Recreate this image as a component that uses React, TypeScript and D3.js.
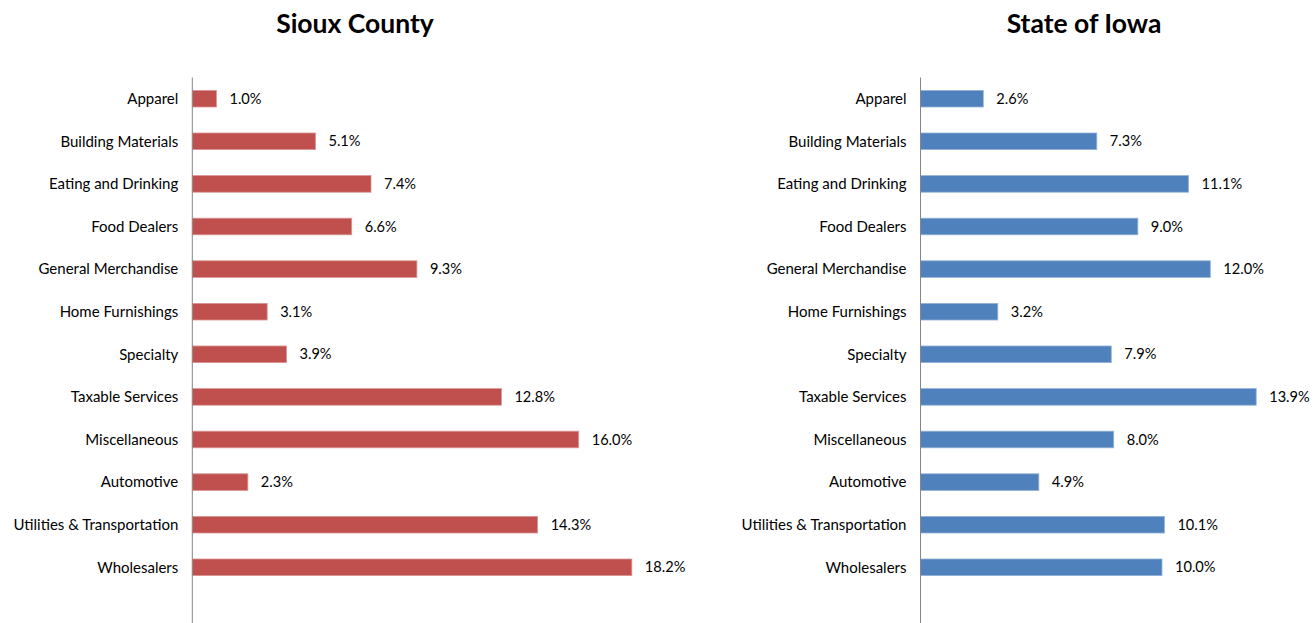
import * as d3 from "d3";

const categories = [
  "Apparel",
  "Building Materials",
  "Eating and Drinking",
  "Food Dealers",
  "General Merchandise",
  "Home Furnishings",
  "Specialty",
  "Taxable Services",
  "Miscellaneous",
  "Automotive",
  "Utilities & Transportation",
  "Wholesalers",
];

const siouxValues = [1.0, 5.1, 7.4, 6.6, 9.3, 3.1, 3.9, 12.8, 16.0, 2.3, 14.3, 18.2];
const iowaValues = [2.6, 7.3, 11.1, 9.0, 12.0, 3.2, 7.9, 13.9, 8.0, 4.9, 10.1, 10.0];

const W = 1316;
const H = 623;
const font = "Lato, 'Open Sans', sans-serif";

function Panel({
  title,
  values,
  axisX,
  titleX,
  color,
  stroke,
}: {
  title: string;
  values: number[];
  axisX: number;
  titleX: number;
  color: string;
  stroke: string;
}) {
  const y = d3.scaleBand<string>().domain(categories).range([77.4, 588.6]).paddingInner(0.61).paddingOuter(0.305);
  const x = d3.scaleLinear().domain([0, 20]).range([0, 483]);
  return (
    <g>
      <text x={titleX} y={33} textAnchor="middle" fontFamily={font} fontWeight="bold" fontSize={26.5} fill="#000">
        {title}
      </text>
      {categories.map((c, i) => {
        const cy = (y(c) ?? 0) + y.bandwidth() / 2;
        return (
          <g key={c}>
            <rect
              x={axisX}
              y={y(c)}
              width={x(values[i])}
              height={y.bandwidth()}
              fill={color}
              stroke={stroke}
              strokeWidth={0.8}
            />
            <text x={axisX - 14} y={cy} dy="0.35em" textAnchor="end" fontFamily={font} fontSize={15} fill="#000">
              {c}
            </text>
            <text x={axisX + x(values[i]) + 13} y={cy} dy="0.35em" fontFamily={font} fontSize={14.6} fill="#000">
              {values[i].toFixed(1) + "%"}
            </text>
          </g>
        );
      })}
      <line x1={axisX} x2={axisX} y1={77.5} y2={H} stroke="#868686" strokeWidth={1} />
    </g>
  );
}

export default function App() {
  return (
    <svg width={W} height={H} style={{ position: "absolute", left: 0, top: 0, background: "#fff" }}>
      <rect width={W} height={H} fill="#fff" />
      <Panel title="Sioux County" values={siouxValues} axisX={192.3} titleX={355} color="#C0504D" stroke="#D99694" />
      <Panel title="State of Iowa" values={iowaValues} axisX={920.5} titleX={1084} color="#4F81BD" stroke="#95B3D7" />
    </svg>
  );
}
